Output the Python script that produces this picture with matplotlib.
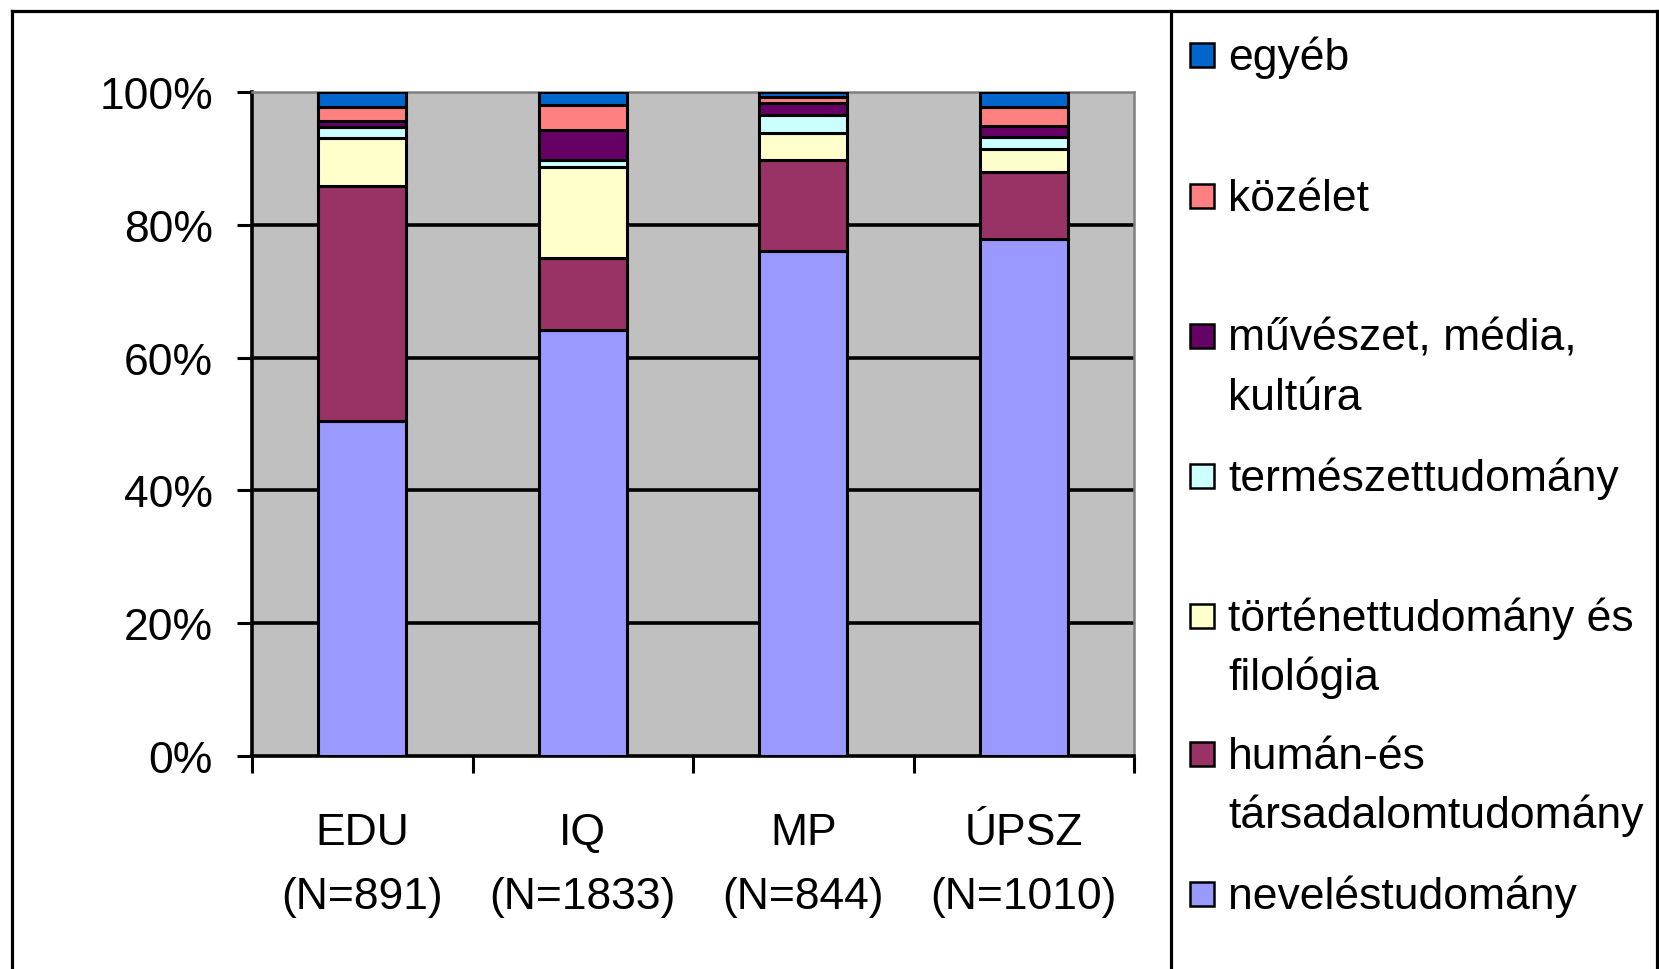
import numpy as np
import matplotlib.pyplot as plt
from matplotlib.ticker import PercentFormatter, FixedLocator
from matplotlib.lines import Line2D
from matplotlib.patches import Rectangle

plt.rcParams['font.family'] = ['Liberation Sans', 'DejaVu Sans']

# adatok (százalék, alulról felfelé halmozva)
categories = ["EDU\n(N=891)", "IQ\n(N=1833)", "MP\n(N=844)", "ÚPSZ\n(N=1010)"]
neveles = [50.5, 64.2, 76.1, 77.8]
human = [35.3, 10.8, 13.7, 10.2]
tortenet = [7.2, 13.7, 4.0, 3.4]
termeszet = [1.7, 1.1, 2.8, 1.8]
muveszet = [0.9, 4.5, 1.7, 1.7]
kozelet = [2.1, 3.8, 0.9, 2.8]
egyeb = [2.3, 1.9, 0.8, 2.3]

series = [neveles, human, tortenet, termeszet, muveszet, kozelet, egyeb]
labels = ["neveléstudomány", "humán-és\ntársadalomtudomány", "történettudomány és\nfilológia",
          "természettudomány", "művészet, média,\nkultúra", "közélet", "egyéb"]
colors = ["#9999FF", "#993366", "#FFFFCC", "#CCFFFF", "#660066", "#FF8080", "#0066CC"]

W, H = 1659, 970
fig = plt.figure(figsize=(W / 100, H / 100), dpi=100)
ax = fig.add_axes([252 / W, 1 - 757 / H, (1134 - 252) / W, (757 - 93) / H])
ax.set_facecolor("#C0C0C0")

x = np.arange(len(categories))
bottom = np.zeros(len(categories))
for vals, col in zip(series, colors):
    ax.bar(x, vals, 0.4, bottom=bottom, color=col, edgecolor="black", linewidth=2.2, zorder=3)
    bottom += np.array(vals)

ax.set_xlim(-0.5, len(categories) - 0.5)
ax.set_ylim(0, 100)
ax.set_yticks(np.arange(0, 101, 20))
ax.yaxis.set_major_formatter(PercentFormatter(xmax=100, decimals=0))
for yv in [20, 40, 60, 80]:
    ax.axhline(yv, color="black", linewidth=2.6, zorder=1)

ax.xaxis.set_major_locator(FixedLocator(np.arange(-0.5, len(categories), 1.0)))
ax.xaxis.set_major_formatter(plt.NullFormatter())
ax.set_xticks(x, minor=True)
ax.set_xticklabels(categories, minor=True, fontsize=32, linespacing=1.72)
ax.tick_params(axis="x", which="major", length=12, width=2.2, direction="out")
ax.tick_params(axis="x", which="minor", length=0, pad=40)
ax.tick_params(axis="y", length=11, width=2.2, direction="out", labelsize=32, pad=17)

for s in ["left", "bottom"]:
    ax.spines[s].set_linewidth(2.6)
    ax.spines[s].set_color("black")
for s in ["top", "right"]:
    ax.spines[s].set_linewidth(1.8)
    ax.spines[s].set_color("#808080")

# külső keret és jelmagyarázat elválasztó
lw = 2.3
fig.add_artist(Line2D([12 / W, 12 / W], [0, 1 - 12 / H], color="black", linewidth=lw))
fig.add_artist(Line2D([12 / W, 1657 / W], [1 - 12 / H, 1 - 12 / H], color="black", linewidth=lw))
fig.add_artist(Line2D([1657 / W, 1657 / W], [0, 1 - 12 / H], color="black", linewidth=lw))
fig.add_artist(Line2D([1171 / W, 1171 / W], [0, 1 - 12 / H], color="black", linewidth=lw))

# jelmagyarázat (felülről lefelé: egyéb ... neveléstudomány)
centers = [56, 197, 337, 477, 617, 755, 895]
for i, (lab, col) in enumerate(zip(labels[::-1], colors[::-1])):
    cy = centers[i]
    fig.add_artist(Rectangle((1190 / W, 1 - (cy + 12) / H), 24 / W, 24 / H,
                             facecolor=col, edgecolor="black", linewidth=1.8))
    for j, line in enumerate(lab.split("\n")):
        fig.text(1228 / W, 1 - (cy + 14 + j * 59) / H, line, fontsize=32, va="baseline", ha="left")

fig.savefig("out.png", dpi=100)
